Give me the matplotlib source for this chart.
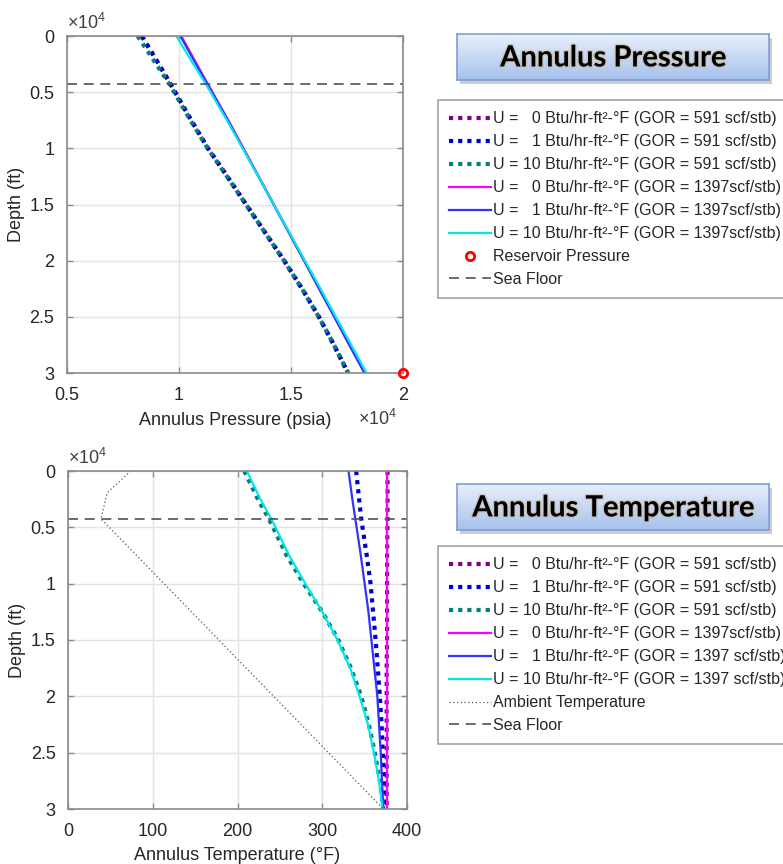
import matplotlib
matplotlib.use("Agg")
import matplotlib.pyplot as plt
import matplotlib.patheffects as pe
from matplotlib.colors import LinearSegmentedColormap
from matplotlib.patches import Rectangle
from matplotlib.ticker import FuncFormatter
import numpy as np

plt.rcParams['font.family'] = ['Liberation Sans', 'DejaVu Sans']
plt.rcParams['mathtext.default'] = 'regular'

# depth stations (ft)
depth = [0, 2500, 4250, 7500, 10000, 12500, 15000, 17500, 20000, 22500, 25000, 27500, 30000]
sea_floor = 4250

# annulus pressure (psia)
p_u0_591 = [8350, 9100, 9620, 10550, 11300, 12160, 13000, 13850, 14700, 15500, 16250, 16920, 17550]
p_u1_591 = [8330, 9090, 9610, 10540, 11290, 12150, 12990, 13840, 14690, 15490, 16240, 16910, 17540]
p_u10_591 = [8150, 8980, 9560, 10510, 11280, 12140, 12990, 13840, 14690, 15490, 16240, 16920, 17550]
p_u0_1397 = [10100, 10790, 11280, 12200, 12880, 13560, 14240, 14920, 15600, 16270, 16940, 17610, 18290]
p_u1_1397 = [10060, 10760, 11260, 12180, 12860, 13540, 14220, 14900, 15580, 16250, 16930, 17600, 18280]
p_u10_1397 = [9880, 10640, 11190, 12140, 12840, 13540, 14230, 14930, 15620, 16320, 17000, 17690, 18370]
p_res = 20000
d_res = 30000

# annulus temperature (F)
t_u0_591 = [377, 377, 377, 376.5, 376.5, 376.5, 376.5, 376, 376, 376, 376, 376, 376]
t_u1_591 = [340, 343.5, 346, 352.5, 357, 360, 363, 365.5, 368, 370, 371.5, 373, 374]
t_u10_591 = [208, 224, 237, 258, 278, 300, 319, 334, 346, 355, 362, 368, 372]
t_u0_1397 = [376, 376, 376, 376, 376, 376, 376, 376, 376, 376, 376, 376, 376]
t_u1_1397 = [331, 335.5, 339, 345.5, 350, 354.5, 358, 361.5, 365, 367, 369, 370.5, 372]
t_u10_1397 = [211, 227, 240, 261, 280, 300, 318, 333, 344, 354, 361, 367, 371]

ambient_depth = [0, 1950, 4250, 30000]
ambient_temp = [74, 46, 39, 372]

labels_p = [
    "U =   0 Btu/hr-ft²-°F (GOR = 591 scf/stb)",
    "U =   1 Btu/hr-ft²-°F (GOR = 591 scf/stb)",
    "U = 10 Btu/hr-ft²-°F (GOR = 591 scf/stb)",
    "U =   0 Btu/hr-ft²-°F (GOR = 1397scf/stb)",
    "U =   1 Btu/hr-ft²-°F (GOR = 1397scf/stb)",
    "U = 10 Btu/hr-ft²-°F (GOR = 1397scf/stb)",
    "Reservoir Pressure",
    "Sea Floor",
]
labels_t = [
    "U =   0 Btu/hr-ft²-°F (GOR = 591 scf/stb)",
    "U =   1 Btu/hr-ft²-°F (GOR = 591 scf/stb)",
    "U = 10 Btu/hr-ft²-°F (GOR = 591 scf/stb)",
    "U =   0 Btu/hr-ft²-°F (GOR = 1397scf/stb)",
    "U =   1 Btu/hr-ft²-°F (GOR = 1397 scf/stb)",
    "U = 10 Btu/hr-ft²-°F (GOR = 1397 scf/stb)",
    "Ambient Temperature",
    "Sea Floor",
]

colors = ['#800080', '#0000cc', '#008080', '#ff00ff', '#3333ff', '#00e8e8']
dot = (0, (1, 1.2))
W, H = 783, 864

fig = plt.figure(figsize=(W / 100, H / 100), dpi=100)


def style_axes(ax):
    ax.grid(True, color='#e3e3e3', linewidth=1)
    ax.set_axisbelow(True)
    for s in ax.spines.values():
        s.set_color('#8a8a8a')
        s.set_linewidth(1.2)
    ax.tick_params(direction='in', length=4, width=1, color='#8a8a8a',
                   top=True, right=True, labelsize=13, labelcolor='#262626')
    ax.tick_params(axis='x', pad=10)
    ax.tick_params(axis='y', pad=9)
    ax.set_ylim(30000, 0)
    ax.set_yticks(np.arange(0, 30001, 5000))
    ax.yaxis.set_major_formatter(FuncFormatter(lambda v, p: f"{v / 1e4:g}"))
    ax.set_ylabel('Depth (ft)', fontsize=13, color='#262626', labelpad=3)
    ax.text(0.0, 1.01, '×10$^4$', transform=ax.transAxes, fontsize=13,
            color='#404040', ha='left', va='bottom')


def title_box(bottom, text):
    l, w, h = 457 / W, 312 / W, 46 / H
    shadow = Rectangle((l + 3 / W, bottom - 4 / H), w, h, transform=fig.transFigure,
                       facecolor='#9a9a9a', edgecolor='none', alpha=0.5, zorder=-1)
    fig.add_artist(shadow)
    tax = fig.add_axes([l, bottom, w, h])
    cmap = LinearSegmentedColormap.from_list('box', ['#e8effb', '#a6c1ee'])
    grad = np.linspace(0, 1, 100).reshape(-1, 1)
    tax.imshow(grad, aspect='auto', cmap=cmap, extent=[0, 1, 0, 1])
    tax.set_xticks([])
    tax.set_yticks([])
    for s in tax.spines.values():
        s.set_color('#7c9fd6')
        s.set_linewidth(1.2)
    tax.text(0.5, 0.47, text, ha='center', va='center', fontsize=21,
             fontweight='bold', family='Lato', color='black',
             path_effects=[pe.withStroke(linewidth=2, foreground='#c9b48a', alpha=0.5)])


# pressure profile
ax1 = fig.add_axes([67 / W, 1 - 373 / H, 336 / W, 337 / H])
h1 = []
for vals, c in zip([p_u0_591, p_u1_591, p_u10_591], colors[:3]):
    h1 += ax1.plot(vals, depth, color=c, linewidth=3, linestyle=dot)
for vals, c in zip([p_u0_1397, p_u1_1397, p_u10_1397], colors[3:]):
    h1 += ax1.plot(vals, depth, color=c, linewidth=1.6)
h1 += ax1.plot([p_res], [d_res], 'o', mfc='none', mec='red', mew=2, ms=6, clip_on=False,
               zorder=5)
h1.append(ax1.axhline(sea_floor, color='#505050', linewidth=1.2, linestyle=(0, (6, 4))))
ax1.set_xlim(5000, 20000)
ax1.set_xticks(np.arange(5000, 20001, 5000))
ax1.xaxis.set_major_formatter(FuncFormatter(lambda v, p: f"{v / 1e4:g}"))
ax1.set_xlabel('Annulus Pressure (psia)', fontsize=13, color='#262626', labelpad=6)
style_axes(ax1)
ax1.text(0.865, -0.135, '×10$^4$', transform=ax1.transAxes, fontsize=13,
         color='#404040', ha='left', va='center')

# temperature profile
ax2 = fig.add_axes([68 / W, 1 - 809 / H, 339 / W, 338 / H])
h2 = []
for vals, c in zip([t_u0_591, t_u1_591, t_u10_591], colors[:3]):
    h2 += ax2.plot(vals, depth, color=c, linewidth=3, linestyle=dot)
for vals, c in zip([t_u0_1397, t_u1_1397, t_u10_1397], colors[3:]):
    h2 += ax2.plot(vals, depth, color=c, linewidth=1.6)
h2 += ax2.plot(ambient_temp, ambient_depth, color='#555555', linewidth=0.9,
               linestyle=(0, (1, 2)))
h2.append(ax2.axhline(sea_floor, color='#505050', linewidth=1.2, linestyle=(0, (6, 4))))
ax2.set_xlim(0, 400)
ax2.set_xticks(np.arange(0, 401, 100))
ax2.set_xlabel('Annulus Temperature (°F)', fontsize=13, color='#262626', labelpad=5)
style_axes(ax2)

title_box(1 - 80 / H, 'Annulus Pressure')
title_box(1 - 530 / H, 'Annulus Temperature')

leg_kw = dict(loc='upper left', fontsize=11.5, frameon=True, fancybox=False,
              edgecolor='#8a8a8a', handlelength=2.6, handletextpad=0.12,
              labelspacing=0.5, borderpad=0.7, borderaxespad=0)
lg1 = fig.legend(h1, labels_p, bbox_to_anchor=(438 / W, 1 - 100 / H), **leg_kw)
lg2 = fig.legend(h2, labels_t, bbox_to_anchor=(438 / W, 1 - 546 / H), **leg_kw)
for lg in (lg1, lg2):
    lg.get_frame().set_linewidth(1.2)
    for t in lg.get_texts():
        t.set_color('#262626')

fig.savefig('out.png', dpi=100)
